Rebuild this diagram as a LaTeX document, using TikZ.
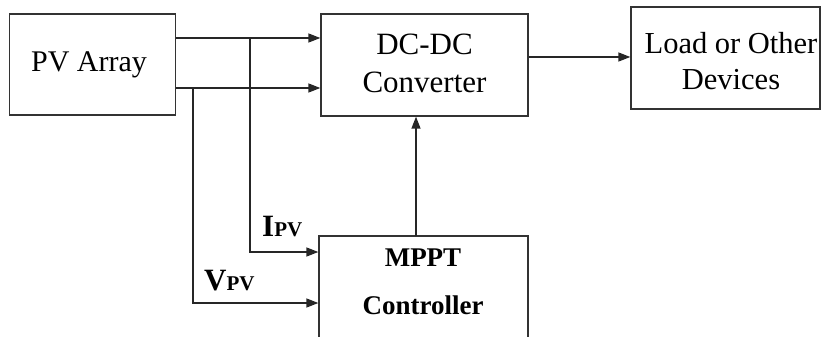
\documentclass[tikz,border=0pt]{standalone}
\usepackage{fontspec}
\setmainfont{Liberation Serif}
\usetikzlibrary{arrows.meta}
\begin{document}
\begin{tikzpicture}[x=1pt,y=-1pt,
  blk/.style={draw=black!80,line width=1.3pt},
  conn/.style={draw=black!85,line width=1.4pt},
  arr/.style={conn,-{Triangle[length=12pt,width=9pt]}},
  lbl/.style={font=\fontsize{31}{38}\selectfont,align=center,inner sep=0pt},
  blbl/.style={font=\fontsize{27}{48}\selectfont\bfseries,align=center,inner sep=0pt}]
\useasboundingbox (0,0) rectangle (823,337);
\begin{scope}
\clip (0,0) rectangle (823,337);
\node[blk,minimum width=166pt,minimum height=101pt,inner sep=0pt] (pv) at (92.5,64.5) {};
\node[blk,minimum width=207pt,minimum height=102pt,inner sep=0pt] (dc) at (424.5,65) {};
\node[blk,minimum width=189pt,minimum height=102pt,inner sep=0pt] (ld) at (725.5,58) {};
\node[blk,minimum width=209pt,minimum height=120pt,inner sep=0pt] (mp) at (423.5,296) {};
\end{scope}
\node[lbl,font=\fontsize{30}{38}\selectfont] at (89,65) {PV Array};
\node[lbl] at (424.5,63) {DC-DC\\Converter};
\node[lbl,font=\fontsize{30.5}{36}\selectfont] at (731,61) {Load or Other\\Devices};
\node[blbl] at (423,282) {MPPT\\Controller};
\coordinate (a1) at (pv.east |- 0,38);
\coordinate (a2) at (pv.east |- 0,88);
\draw[arr] (a1) -- (dc.west |- a1);
\draw[arr] (a2) -- (dc.west |- a2);
\coordinate (t1) at (250,38);
\coordinate (t2) at (193,88);
\draw[arr] (t1) -- (250,252) -- (mp.west |- 0,252);
\draw[arr] (t2) -- (193,303) -- (mp.west |- 0,303);
\draw[arr] (416,236) -- (dc.south -| 416,0);
\draw[arr] (dc.east |- 0,57) -- (ld.west |- 0,57);
\node[anchor=base west,inner sep=0pt,font=\fontsize{31}{31}\selectfont\bfseries] (ipv) at (262,236) {I\fontsize{21}{21}\selectfont PV};
\node[anchor=base west,inner sep=0pt,font=\fontsize{31}{31}\selectfont\bfseries] (vpv) at (204,290) {V\fontsize{21}{21}\selectfont PV};
\end{tikzpicture}
\end{document}
